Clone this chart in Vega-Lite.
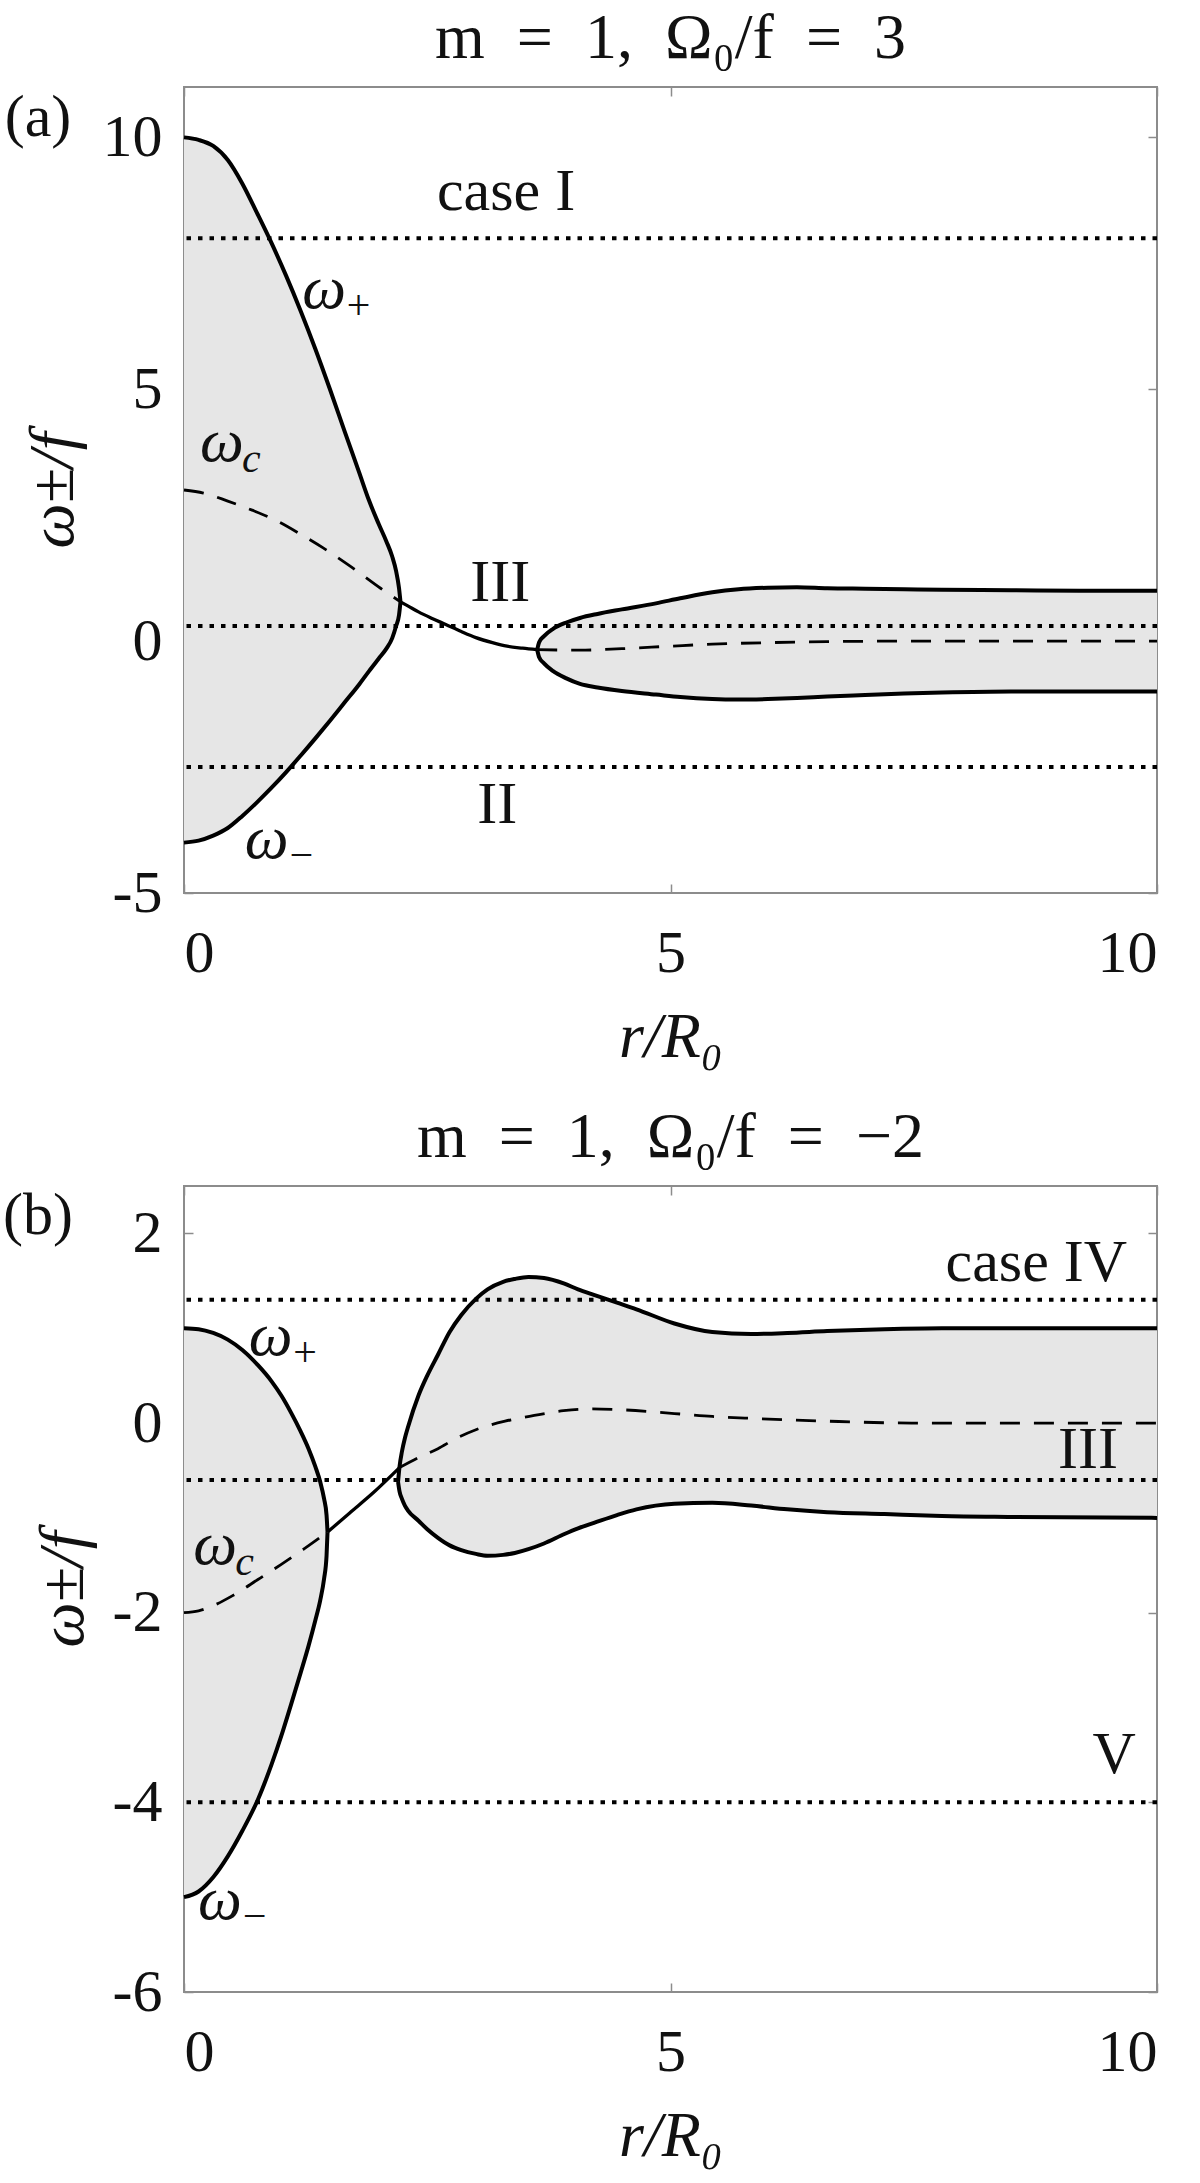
{
  "$schema": "https://vega.github.io/schema/vega-lite/v6.json",
  "background": "white",
  "padding": {"left": 2, "top": 6, "right": 10, "bottom": 5},
  "spacing": 293,
  "bounds": "flush",
  "config": {
    "view": {"stroke": "#8c8c8c", "strokeWidth": 2},
    "font": "Liberation Serif",
    "axis": {"grid": false, "domain": false, "tickColor": "#8c8c8c", "tickSize": -9, "tickWidth": 1.5,
      "labelFont": "Liberation Serif", "labelFontSize": 60, "labelColor": "#111111",
      "titleFont": "Liberation Serif", "titleFontSize": 64, "titleFontWeight": "normal", "titleFontStyle": "italic", "titleColor": "#111111"},
    "title": {"font": "Liberation Serif", "fontSize": 64, "fontWeight": "normal", "color": "#111111", "baseline": "alphabetic", "offset": 15}
  },
  "datasets": {
    "aFill": [
      {"g": "L", "r": 0, "hi": 10, "lo": -4.0},
      {"g": "L", "r": 0.15, "hi": 9.95, "lo": -3.96},
      {"g": "L", "r": 0.3, "hi": 9.83, "lo": -3.86},
      {"g": "L", "r": 0.45, "hi": 9.55, "lo": -3.71},
      {"g": "L", "r": 0.6, "hi": 9.08, "lo": -3.47},
      {"g": "L", "r": 0.75, "hi": 8.5, "lo": -3.2},
      {"g": "L", "r": 0.9, "hi": 7.9, "lo": -2.91},
      {"g": "L", "r": 1.05, "hi": 7.25, "lo": -2.6},
      {"g": "L", "r": 1.2, "hi": 6.55, "lo": -2.27},
      {"g": "L", "r": 1.35, "hi": 5.8, "lo": -1.93},
      {"g": "L", "r": 1.5, "hi": 5.0, "lo": -1.58},
      {"g": "L", "r": 1.65, "hi": 4.17, "lo": -1.22},
      {"g": "L", "r": 1.8, "hi": 3.35, "lo": -0.86},
      {"g": "L", "r": 1.9, "hi": 2.8, "lo": -0.6},
      {"g": "L", "r": 2.0, "hi": 2.33, "lo": -0.35},
      {"g": "L", "r": 2.08, "hi": 1.98, "lo": -0.15},
      {"g": "L", "r": 2.14, "hi": 1.68, "lo": 0.06},
      {"g": "L", "r": 2.18, "hi": 1.39, "lo": 0.3},
      {"g": "L", "r": 2.21, "hi": 1.05, "lo": 0.52},
      {"g": "L", "r": 2.225, "hi": 0.78, "lo": 0.78},
      {"g": "R", "r": 3.63, "hi": -0.17, "lo": -0.17},
      {"g": "R", "r": 3.65, "hi": -0.02, "lo": -0.32},
      {"g": "R", "r": 3.7, "hi": 0.1, "lo": -0.44},
      {"g": "R", "r": 3.79, "hi": 0.24, "lo": -0.59},
      {"g": "R", "r": 3.93, "hi": 0.37, "lo": -0.74},
      {"g": "R", "r": 4.07, "hi": 0.46, "lo": -0.85},
      {"g": "R", "r": 4.25, "hi": 0.54, "lo": -0.92},
      {"g": "R", "r": 4.5, "hi": 0.63, "lo": -0.99},
      {"g": "R", "r": 4.85, "hi": 0.75, "lo": -1.06},
      {"g": "R", "r": 5.1, "hi": 0.85, "lo": -1.11},
      {"g": "R", "r": 5.43, "hi": 0.97, "lo": -1.15},
      {"g": "R", "r": 5.7, "hi": 1.03, "lo": -1.16},
      {"g": "R", "r": 6.0, "hi": 1.06, "lo": -1.15},
      {"g": "R", "r": 6.3, "hi": 1.07, "lo": -1.13},
      {"g": "R", "r": 6.61, "hi": 1.05, "lo": -1.1},
      {"g": "R", "r": 7.0, "hi": 1.04, "lo": -1.07},
      {"g": "R", "r": 7.4, "hi": 1.03, "lo": -1.04},
      {"g": "R", "r": 7.79, "hi": 1.02, "lo": -1.02},
      {"g": "R", "r": 8.5, "hi": 1.01, "lo": -1.0},
      {"g": "R", "r": 9.2, "hi": 1.0, "lo": -1.0},
      {"g": "R", "r": 10, "hi": 1.0, "lo": -1.0}
    ],
    "aConn": [
      {"r": 2.225, "w": 0.78}, {"r": 2.3, "w": 0.7}, {"r": 2.41, "w": 0.58}, {"r": 2.55, "w": 0.45},
      {"r": 2.69, "w": 0.33}, {"r": 2.85, "w": 0.19}, {"r": 3.0, "w": 0.07}, {"r": 3.17, "w": -0.03},
      {"r": 3.32, "w": -0.1}, {"r": 3.48, "w": -0.14}, {"r": 3.63, "w": -0.17}
    ],
    "aDash": [
      {"g": "L", "r": 0, "w": 3.0}, {"g": "L", "r": 0.2, "w": 2.94}, {"g": "L", "r": 0.45, "w": 2.78},
      {"g": "L", "r": 0.7, "w": 2.6}, {"g": "L", "r": 0.92, "w": 2.42}, {"g": "L", "r": 1.2, "w": 2.12},
      {"g": "L", "r": 1.43, "w": 1.85}, {"g": "L", "r": 1.7, "w": 1.5}, {"g": "L", "r": 2.02, "w": 1.05},
      {"g": "L", "r": 2.225, "w": 0.78},
      {"g": "R", "r": 3.63, "w": -0.17}, {"g": "R", "r": 4.07, "w": -0.18}, {"g": "R", "r": 4.5, "w": -0.15},
      {"g": "R", "r": 5.0, "w": -0.1}, {"g": "R", "r": 5.43, "w": -0.06}, {"g": "R", "r": 6.0, "w": -0.03},
      {"g": "R", "r": 6.61, "w": -0.01}, {"g": "R", "r": 7.5, "w": 0.0}, {"g": "R", "r": 8.5, "w": 0.0},
      {"g": "R", "r": 10, "w": 0.0}
    ],
    "aDot": [{"w": 8}, {"w": 0.3}, {"w": -2.5}],
    "aText": [
      {"r": 3.31, "w": 8.56, "t": "case I"},
      {"r": 3.25, "w": 0.8, "t": "III"},
      {"r": 3.22, "w": -3.61, "t": "II"},
      {"r": -1.5, "w": 10.03, "t": "(a)"}
    ],
    "aOm": [
      {"r": 1.44, "w": 6.61, "s": "+"},
      {"r": 0.39, "w": 3.57, "s": "c"},
      {"r": 0.85, "w": -4.31, "s": "−"}
    ],
    "bFill": [
      {"g": "L", "r": 0, "hi": 1.0, "lo": -5.0},
      {"g": "L", "r": 0.15, "hi": 0.99, "lo": -4.94},
      {"g": "L", "r": 0.3, "hi": 0.95, "lo": -4.79},
      {"g": "L", "r": 0.45, "hi": 0.88, "lo": -4.57},
      {"g": "L", "r": 0.6, "hi": 0.77, "lo": -4.3},
      {"g": "L", "r": 0.76, "hi": 0.61, "lo": -3.97},
      {"g": "L", "r": 0.9, "hi": 0.44, "lo": -3.6},
      {"g": "L", "r": 1.0, "hi": 0.29, "lo": -3.3},
      {"g": "L", "r": 1.1, "hi": 0.11, "lo": -2.97},
      {"g": "L", "r": 1.2, "hi": -0.09, "lo": -2.63},
      {"g": "L", "r": 1.28, "hi": -0.27, "lo": -2.35},
      {"g": "L", "r": 1.35, "hi": -0.46, "lo": -2.08},
      {"g": "L", "r": 1.4, "hi": -0.62, "lo": -1.87},
      {"g": "L", "r": 1.44, "hi": -0.8, "lo": -1.64},
      {"g": "L", "r": 1.465, "hi": -0.97, "lo": -1.4},
      {"g": "L", "r": 1.475, "hi": -1.15, "lo": -1.15},
      {"g": "R", "r": 2.2, "hi": -0.62, "lo": -0.62},
      {"g": "R", "r": 2.215, "hi": -0.46, "lo": -0.72},
      {"g": "R", "r": 2.24, "hi": -0.3, "lo": -0.8},
      {"g": "R", "r": 2.27, "hi": -0.16, "lo": -0.87},
      {"g": "R", "r": 2.3, "hi": -0.05, "lo": -0.92},
      {"g": "R", "r": 2.41, "hi": 0.29, "lo": -1.03},
      {"g": "R", "r": 2.5, "hi": 0.5, "lo": -1.12},
      {"g": "R", "r": 2.61, "hi": 0.72, "lo": -1.21},
      {"g": "R", "r": 2.73, "hi": 0.96, "lo": -1.29},
      {"g": "R", "r": 2.85, "hi": 1.14, "lo": -1.34},
      {"g": "R", "r": 3.0, "hi": 1.31, "lo": -1.38},
      {"g": "R", "r": 3.12, "hi": 1.41, "lo": -1.4},
      {"g": "R", "r": 3.28, "hi": 1.49, "lo": -1.39},
      {"g": "R", "r": 3.4, "hi": 1.52, "lo": -1.37},
      {"g": "R", "r": 3.54, "hi": 1.54, "lo": -1.33},
      {"g": "R", "r": 3.7, "hi": 1.53, "lo": -1.27},
      {"g": "R", "r": 3.91, "hi": 1.47, "lo": -1.17},
      {"g": "R", "r": 4.05, "hi": 1.41, "lo": -1.11},
      {"g": "R", "r": 4.22, "hi": 1.35, "lo": -1.05},
      {"g": "R", "r": 4.45, "hi": 1.27, "lo": -0.97},
      {"g": "R", "r": 4.65, "hi": 1.2, "lo": -0.91},
      {"g": "R", "r": 5.04, "hi": 1.05, "lo": -0.85},
      {"g": "R", "r": 5.43, "hi": 0.96, "lo": -0.84},
      {"g": "R", "r": 5.83, "hi": 0.94, "lo": -0.87},
      {"g": "R", "r": 6.2, "hi": 0.95, "lo": -0.91},
      {"g": "R", "r": 6.61, "hi": 0.97, "lo": -0.94},
      {"g": "R", "r": 7.2, "hi": 0.99, "lo": -0.96},
      {"g": "R", "r": 7.79, "hi": 1.0, "lo": -0.98},
      {"g": "R", "r": 8.5, "hi": 1.0, "lo": -0.99},
      {"g": "R", "r": 10, "hi": 1.0, "lo": -1.0}
    ],
    "bConn": [
      {"r": 1.475, "w": -1.15}, {"r": 1.7, "w": -0.95}, {"r": 1.95, "w": -0.73}, {"r": 2.215, "w": -0.47}
    ],
    "bDash": [
      {"g": "L", "r": 0, "w": -2.0}, {"g": "L", "r": 0.15, "w": -1.98}, {"g": "L", "r": 0.29, "w": -1.93},
      {"g": "L", "r": 0.5, "w": -1.82}, {"g": "L", "r": 0.76, "w": -1.65}, {"g": "L", "r": 1.0, "w": -1.49},
      {"g": "L", "r": 1.23, "w": -1.33}, {"g": "L", "r": 1.475, "w": -1.15},
      {"g": "R", "r": 2.215, "w": -0.47}, {"g": "R", "r": 2.4, "w": -0.37}, {"g": "R", "r": 2.61, "w": -0.27},
      {"g": "R", "r": 2.8, "w": -0.16}, {"g": "R", "r": 3.0, "w": -0.07}, {"g": "R", "r": 3.3, "w": 0.02},
      {"g": "R", "r": 3.6, "w": 0.08}, {"g": "R", "r": 3.9, "w": 0.13}, {"g": "R", "r": 4.18, "w": 0.15},
      {"g": "R", "r": 4.5, "w": 0.14}, {"g": "R", "r": 5.04, "w": 0.1}, {"g": "R", "r": 5.43, "w": 0.07},
      {"g": "R", "r": 5.83, "w": 0.05}, {"g": "R", "r": 6.61, "w": 0.02}, {"g": "R", "r": 7.5, "w": 0.0},
      {"g": "R", "r": 10, "w": 0.0}
    ],
    "bDot": [{"w": 1.3}, {"w": -0.6}, {"w": -4}],
    "bText": [
      {"r": 8.76, "w": 1.5, "t": "case IV"},
      {"r": 9.29, "w": -0.47, "t": "III"},
      {"r": 9.56, "w": -3.69, "t": "V"},
      {"r": -1.5, "w": 1.99, "t": "(b)"}
    ],
    "bOm": [
      {"r": 0.89, "w": 0.72, "s": "+"},
      {"r": 0.32, "w": -1.49, "s": "c"},
      {"r": 0.37, "w": -5.23, "s": "−"}
    ]
  },
  "vconcat": [
    {
      "title": {"text": "m\u2002=\u20021,\u2002Ω₀/f\u2002=\u20023"},
      "width": 973,
      "height": 806,
      "resolve": {"axis": {"x": "independent", "y": "independent"}},
      "layer": [
        {
          "data": {"name": "aFill"},
          "mark": {"type": "area", "color": "#e6e6e6", "opacity": 1, "interpolate": "monotone"},
          "encoding": {
            "x": {"field": "r", "type": "quantitative", "scale": {"domain": [0, 10], "nice": false, "zero": false},
              "axis": {"orient": "bottom", "values": [0, 5, 10], "title": "r/R₀", "labelPadding": 40, "titlePadding": 22, "labelExpr": "'' + datum.value"}},
            "y": {"field": "hi", "type": "quantitative", "scale": {"domain": [-5, 11], "nice": false, "zero": false},
              "axis": {"orient": "left", "values": [-5, 0, 5, 10], "title": "ω±/f", "labelPadding": 31, "titlePadding": 17, "labelExpr": "'' + datum.value"}},
            "y2": {"field": "lo"},
            "detail": {"field": "g"}
          }
        },
        {
          "data": {"name": "aDot"},
          "mark": {"type": "rule", "color": "#000000", "strokeWidth": 4, "strokeDash": [4.5, 7]},
          "encoding": {"y": {"field": "w", "type": "quantitative", "scale": {"domain": [-5, 11], "nice": false, "zero": false}, "axis": null}}
        },
        {
          "data": {"name": "aFill"},
          "mark": {"type": "line", "color": "#000000", "strokeWidth": 4, "interpolate": "monotone"},
          "encoding": {
            "x": {"field": "r", "type": "quantitative", "scale": {"domain": [0, 10], "nice": false, "zero": false}, "axis": null},
            "y": {"field": "hi", "type": "quantitative", "scale": {"domain": [-5, 11], "nice": false, "zero": false}, "axis": null},
            "detail": {"field": "g"}
          }
        },
        {
          "data": {"name": "aFill"},
          "mark": {"type": "line", "color": "#000000", "strokeWidth": 4, "interpolate": "monotone"},
          "encoding": {
            "x": {"field": "r", "type": "quantitative", "scale": {"domain": [0, 10], "nice": false, "zero": false}, "axis": null},
            "y": {"field": "lo", "type": "quantitative", "scale": {"domain": [-5, 11], "nice": false, "zero": false}, "axis": null},
            "detail": {"field": "g"}
          }
        },
        {
          "data": {"name": "aConn"},
          "mark": {"type": "line", "color": "#000000", "strokeWidth": 3.3, "interpolate": "monotone"},
          "encoding": {
            "x": {"field": "r", "type": "quantitative", "scale": {"domain": [0, 10], "nice": false, "zero": false},
              "axis": {"orient": "top", "values": [0, 5, 10], "labels": false, "title": null}},
            "y": {"field": "w", "type": "quantitative", "scale": {"domain": [-5, 11], "nice": false, "zero": false},
              "axis": {"orient": "right", "values": [-5, 0, 5, 10], "labels": false, "title": null}}
          }
        },
        {
          "data": {"name": "aDash"},
          "mark": {"type": "line", "color": "#000000", "strokeWidth": 2.8, "strokeDash": [20, 14], "interpolate": "monotone"},
          "encoding": {
            "x": {"field": "r", "type": "quantitative", "scale": {"domain": [0, 10], "nice": false, "zero": false}, "axis": null},
            "y": {"field": "w", "type": "quantitative", "scale": {"domain": [-5, 11], "nice": false, "zero": false}, "axis": null},
            "detail": {"field": "g"}
          }
        },
        {
          "data": {"name": "aText"},
          "mark": {"type": "text", "font": "Liberation Serif", "fontSize": 60, "color": "#111111", "align": "center", "baseline": "alphabetic"},
          "encoding": {
            "x": {"field": "r", "type": "quantitative", "scale": {"domain": [0, 10], "nice": false, "zero": false}, "axis": null},
            "y": {"field": "w", "type": "quantitative", "scale": {"domain": [-5, 11], "nice": false, "zero": false}, "axis": null},
            "text": {"field": "t"}
          }
        },
        {
          "data": {"name": "aOm"},
          "mark": {"type": "text", "font": "Liberation Serif", "fontStyle": "italic", "fontSize": 62, "color": "#111111", "align": "center", "baseline": "alphabetic"},
          "encoding": {
            "x": {"field": "r", "type": "quantitative", "scale": {"domain": [0, 10], "nice": false, "zero": false}, "axis": null},
            "y": {"field": "w", "type": "quantitative", "scale": {"domain": [-5, 11], "nice": false, "zero": false}, "axis": null},
            "text": {"value": "ω"}
          }
        },
        {
          "data": {"name": "aOm"},
          "mark": {"type": "text", "font": "Liberation Serif", "fontStyle": "italic", "fontSize": 42, "color": "#111111", "align": "left", "baseline": "alphabetic", "dx": 20, "dy": 11},
          "encoding": {
            "x": {"field": "r", "type": "quantitative", "scale": {"domain": [0, 10], "nice": false, "zero": false}, "axis": null},
            "y": {"field": "w", "type": "quantitative", "scale": {"domain": [-5, 11], "nice": false, "zero": false}, "axis": null},
            "text": {"field": "s"}
          }
        }
      ]
    },
    {
      "title": {"text": "m\u2002=\u20021,\u2002Ω₀/f\u2002=\u2002−2"},
      "width": 973,
      "height": 806,
      "resolve": {"axis": {"x": "independent", "y": "independent"}},
      "layer": [
        {
          "data": {"name": "bFill"},
          "mark": {"type": "area", "color": "#e6e6e6", "opacity": 1, "interpolate": "monotone"},
          "encoding": {
            "x": {"field": "r", "type": "quantitative", "scale": {"domain": [0, 10], "nice": false, "zero": false},
              "axis": {"orient": "bottom", "values": [0, 5, 10], "title": "r/R₀", "labelPadding": 40, "titlePadding": 22, "labelExpr": "'' + datum.value"}},
            "y": {"field": "hi", "type": "quantitative", "scale": {"domain": [-6, 2.5], "nice": false, "zero": false},
              "axis": {"orient": "left", "values": [-6, -4, -2, 0, 2], "title": "ω±/f", "labelPadding": 31, "titlePadding": 17, "labelExpr": "'' + datum.value"}},
            "y2": {"field": "lo"},
            "detail": {"field": "g"}
          }
        },
        {
          "data": {"name": "bDot"},
          "mark": {"type": "rule", "color": "#000000", "strokeWidth": 4, "strokeDash": [4.5, 7]},
          "encoding": {"y": {"field": "w", "type": "quantitative", "scale": {"domain": [-6, 2.5], "nice": false, "zero": false}, "axis": null}}
        },
        {
          "data": {"name": "bFill"},
          "mark": {"type": "line", "color": "#000000", "strokeWidth": 4, "interpolate": "monotone"},
          "encoding": {
            "x": {"field": "r", "type": "quantitative", "scale": {"domain": [0, 10], "nice": false, "zero": false}, "axis": null},
            "y": {"field": "hi", "type": "quantitative", "scale": {"domain": [-6, 2.5], "nice": false, "zero": false}, "axis": null},
            "detail": {"field": "g"}
          }
        },
        {
          "data": {"name": "bFill"},
          "mark": {"type": "line", "color": "#000000", "strokeWidth": 4, "interpolate": "monotone"},
          "encoding": {
            "x": {"field": "r", "type": "quantitative", "scale": {"domain": [0, 10], "nice": false, "zero": false}, "axis": null},
            "y": {"field": "lo", "type": "quantitative", "scale": {"domain": [-6, 2.5], "nice": false, "zero": false}, "axis": null},
            "detail": {"field": "g"}
          }
        },
        {
          "data": {"name": "bConn"},
          "mark": {"type": "line", "color": "#000000", "strokeWidth": 3.3, "interpolate": "monotone"},
          "encoding": {
            "x": {"field": "r", "type": "quantitative", "scale": {"domain": [0, 10], "nice": false, "zero": false},
              "axis": {"orient": "top", "values": [0, 5, 10], "labels": false, "title": null}},
            "y": {"field": "w", "type": "quantitative", "scale": {"domain": [-6, 2.5], "nice": false, "zero": false},
              "axis": {"orient": "right", "values": [-6, -4, -2, 0, 2], "labels": false, "title": null}}
          }
        },
        {
          "data": {"name": "bDash"},
          "mark": {"type": "line", "color": "#000000", "strokeWidth": 2.8, "strokeDash": [20, 14], "interpolate": "monotone"},
          "encoding": {
            "x": {"field": "r", "type": "quantitative", "scale": {"domain": [0, 10], "nice": false, "zero": false}, "axis": null},
            "y": {"field": "w", "type": "quantitative", "scale": {"domain": [-6, 2.5], "nice": false, "zero": false}, "axis": null},
            "detail": {"field": "g"}
          }
        },
        {
          "data": {"name": "bText"},
          "mark": {"type": "text", "font": "Liberation Serif", "fontSize": 60, "color": "#111111", "align": "center", "baseline": "alphabetic"},
          "encoding": {
            "x": {"field": "r", "type": "quantitative", "scale": {"domain": [0, 10], "nice": false, "zero": false}, "axis": null},
            "y": {"field": "w", "type": "quantitative", "scale": {"domain": [-6, 2.5], "nice": false, "zero": false}, "axis": null},
            "text": {"field": "t"}
          }
        },
        {
          "data": {"name": "bOm"},
          "mark": {"type": "text", "font": "Liberation Serif", "fontStyle": "italic", "fontSize": 62, "color": "#111111", "align": "center", "baseline": "alphabetic"},
          "encoding": {
            "x": {"field": "r", "type": "quantitative", "scale": {"domain": [0, 10], "nice": false, "zero": false}, "axis": null},
            "y": {"field": "w", "type": "quantitative", "scale": {"domain": [-6, 2.5], "nice": false, "zero": false}, "axis": null},
            "text": {"value": "ω"}
          }
        },
        {
          "data": {"name": "bOm"},
          "mark": {"type": "text", "font": "Liberation Serif", "fontStyle": "italic", "fontSize": 42, "color": "#111111", "align": "left", "baseline": "alphabetic", "dx": 20, "dy": 11},
          "encoding": {
            "x": {"field": "r", "type": "quantitative", "scale": {"domain": [0, 10], "nice": false, "zero": false}, "axis": null},
            "y": {"field": "w", "type": "quantitative", "scale": {"domain": [-6, 2.5], "nice": false, "zero": false}, "axis": null},
            "text": {"field": "s"}
          }
        }
      ]
    }
  ]
}
